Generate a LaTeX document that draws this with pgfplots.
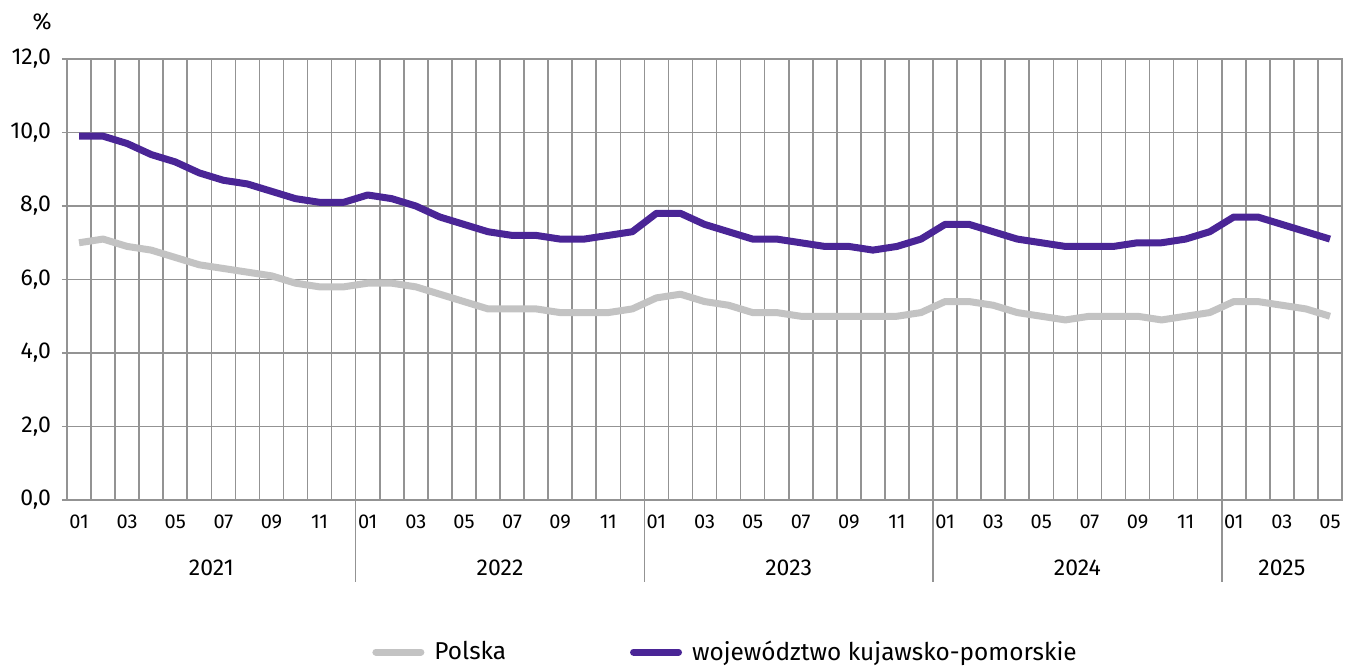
\documentclass[border=0pt]{standalone}
\usepackage{pgfplots}
\pgfplotsset{compat=1.18}
\usepackage{fontspec}
\setmainfont{Fira Sans}
\definecolor{kp}{HTML}{4A2596}
\definecolor{pl}{HTML}{C3C3C3}
\definecolor{gr}{HTML}{939393}

\pgfplotstableread{
x pl kp
0 7.0 9.9
1 7.1 9.9
2 6.9 9.7
3 6.8 9.4
4 6.6 9.2
5 6.4 8.9
6 6.3 8.7
7 6.2 8.6
8 6.1 8.4
9 5.9 8.2
10 5.8 8.1
11 5.8 8.1
12 5.9 8.3
13 5.9 8.2
14 5.8 8.0
15 5.6 7.7
16 5.4 7.5
17 5.2 7.3
18 5.2 7.2
19 5.2 7.2
20 5.1 7.1
21 5.1 7.1
22 5.1 7.2
23 5.2 7.3
24 5.5 7.8
25 5.6 7.8
26 5.4 7.5
27 5.3 7.3
28 5.1 7.1
29 5.1 7.1
30 5.0 7.0
31 5.0 6.9
32 5.0 6.9
33 5.0 6.8
34 5.0 6.9
35 5.1 7.1
36 5.4 7.5
37 5.4 7.5
38 5.3 7.3
39 5.1 7.1
40 5.0 7.0
41 4.9 6.9
42 5.0 6.9
43 5.0 6.9
44 5.0 7.0
45 4.9 7.0
46 5.0 7.1
47 5.1 7.3
48 5.4 7.7
49 5.4 7.7
50 5.3 7.5
51 5.2 7.3
52 5.0 7.1
}\datatable

\begin{document}
\begin{tikzpicture}
\path[use as bounding box] (0pt,0pt) rectangle (676pt,-334pt);
\node[font=\fontsize{11.5}{13}\selectfont, anchor=center] at (21pt,-11pt) {\%};
\begin{axis}[
  at={(33.5pt,-250pt)}, anchor=south west,
  scale only axis, width=637.5pt, height=220.5pt,
  xmin=-0.5, xmax=52.5, ymin=0, ymax=12,
  axis line style={gr, line width=0.8pt},
  ytick={0,2,...,12},
  ymajorgrids,
  major grid style={gr, line width=0.8pt},
  minor grid style={gr, line width=0.8pt},
  major tick length=2.5pt,
  minor tick length=5pt,
  tick align=outside,
  tick pos=left,
  tick style={gr, line width=0.8pt},
  xtick={0,2,...,52},
  xticklabels={01,03,05,07,09,11,01,03,05,07,09,11,01,03,05,07,09,11,01,03,05,07,09,11,01,03,05},
  x tick style={draw=none},
  minor xtick={-0.5,0.5,...,52.5},
  xminorgrids,
  x tick label style={font=\fontsize{10}{12}\selectfont, yshift=-1.5pt},
  y tick label style={font=\fontsize{11.5}{13}\selectfont, xshift=-2pt,
    /pgf/number format/fixed, /pgf/number format/fixed zerofill,
    /pgf/number format/precision=1, /pgf/number format/use comma,
    /pgf/number format/assume math mode=true},
  clip=false,
  legend columns=2,
  legend style={draw=none, fill=none, at={(0.2345,-0.3447)}, anchor=west,
    font=\fontsize{12.2}{14}\selectfont,
    /tikz/every odd column/.append style={column sep=3pt},
    /tikz/every even column/.append style={column sep=60pt}},
  legend image code/.code={\draw[#1, line cap=round] (1.75pt,0pt) -- (24.25pt,0pt);},
]
\addplot[pl, line width=3.5pt, line join=round] table[x=x, y=pl] {\datatable};
\addlegendentry{Polska}
\addplot[kp, line width=3.5pt, line join=round] table[x=x, y=kp] {\datatable};
\addlegendentry{województwo kujawsko-pomorskie}
\pgfplotsinvokeforeach{11.5,23.5,35.5,47.5}{
  \draw[gr, line width=0.8pt] (axis cs:#1,0) -- ++(0pt,-41pt);
}
\node[font=\fontsize{11.5}{13}\selectfont] at (axis cs:5.5,0) [yshift=-34pt] {2021};
\node[font=\fontsize{11.5}{13}\selectfont] at (axis cs:17.5,0) [yshift=-34pt] {2022};
\node[font=\fontsize{11.5}{13}\selectfont] at (axis cs:29.5,0) [yshift=-34pt] {2023};
\node[font=\fontsize{11.5}{13}\selectfont] at (axis cs:41.5,0) [yshift=-34pt] {2024};
\node[font=\fontsize{11.5}{13}\selectfont] at (axis cs:50,0) [yshift=-34pt] {2025};
\end{axis}
\end{tikzpicture}
\end{document}
